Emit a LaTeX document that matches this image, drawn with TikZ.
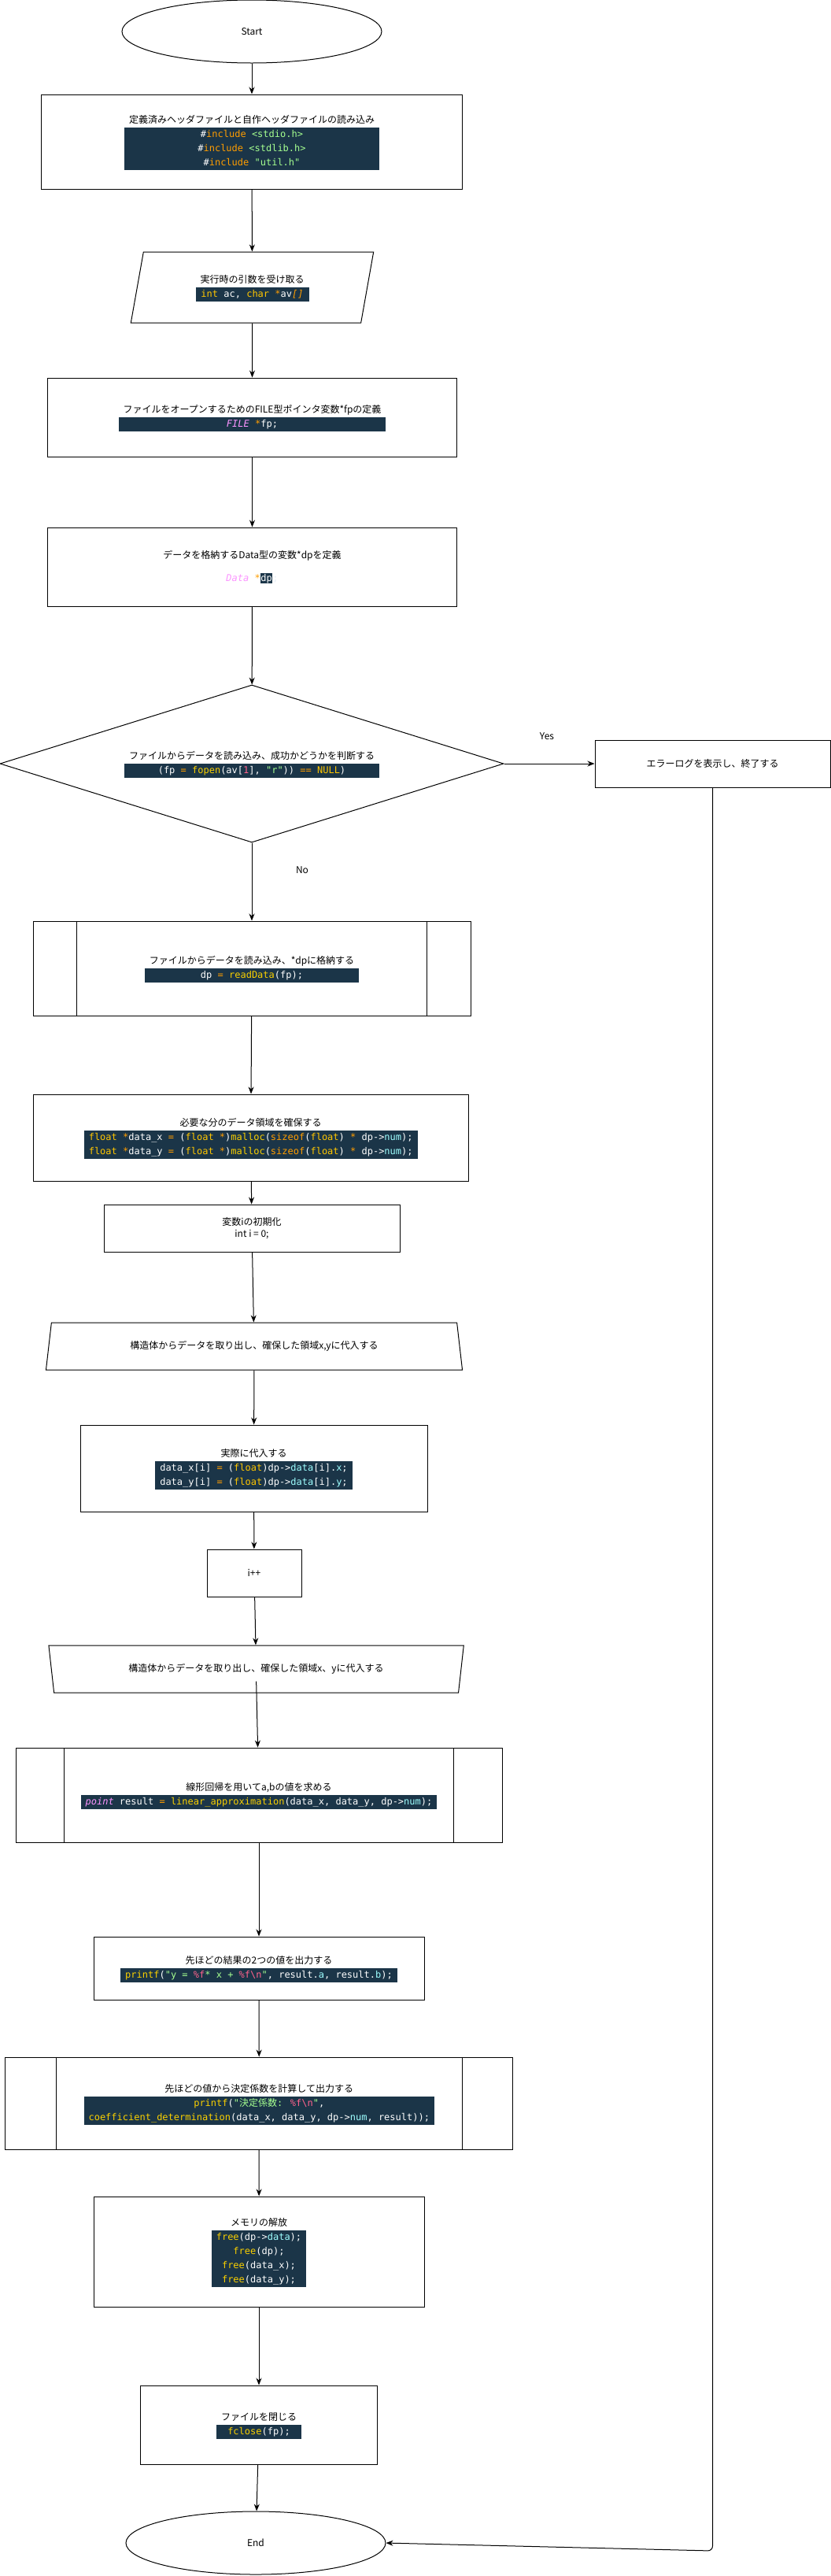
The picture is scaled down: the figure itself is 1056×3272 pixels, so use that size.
\documentclass[tikz,border=0pt]{standalone}
\usepackage[dvipsnames,table]{xcolor}
\usepackage{fontspec}
\usepackage{tikz}
\usetikzlibrary{shapes.geometric,arrows.meta,calc}

\newfontfamily\cjk{Noto Sans CJK JP}
\newfontfamily\codefont{DejaVu Sans Mono}

\definecolor{codebg}{HTML}{1B3548}
\definecolor{ckw}{HTML}{FF9D00}
\definecolor{ctype}{HTML}{FFC600}
\definecolor{cfun}{HTML}{FAD000}
\definecolor{cstr}{HTML}{A5FF90}
\definecolor{cnum}{HTML}{FF628C}
\definecolor{cpink}{HTML}{FB94FF}
\definecolor{cprop}{HTML}{9EFFFF}
\definecolor{cfaint}{HTML}{E6EEF5}

\newcommand{\hkw}[1]{\textcolor{ckw}{#1}}
\newcommand{\htype}[1]{\textcolor{ctype}{#1}}
\newcommand{\hfun}[1]{\textcolor{cfun}{#1}}
\newcommand{\hstr}[1]{\textcolor{cstr}{#1}}
\newcommand{\hnum}[1]{\textcolor{cnum}{#1}}
\newcommand{\hpink}[1]{\textcolor{cpink}{\itshape #1}}
\newcommand{\hprop}[1]{\textcolor{cprop}{#1}}
\newcommand{\codeln}[1]{\rowcolor{codebg}{\codefont\color{white}#1}}
\setlength{\fboxsep}{0.5pt}

\begin{document}
\begin{tikzpicture}[x=1pt, y=-1pt,
  every node/.style={font=\cjk\fontsize{12}{18}\selectfont, inner sep=0pt},
  term/.style={draw, ellipse, line width=1pt, minimum width=330, minimum height=80},
  proc/.style={draw, rectangle, line width=1pt},
  io/.style={draw, trapezium, trapezium left angle=78, trapezium right angle=102,
    trapezium stretches=true, line width=1pt},
  cond/.style={draw, diamond, aspect=3.2, line width=1pt},
  subproc/.style={proc, path picture={
    \foreach \f in {0.1,0.9}
      \draw[line width=1pt] ($(path picture bounding box.north west)!\f!(path picture bounding box.north east)$)
        -- ($(path picture bounding box.south west)!\f!(path picture bounding box.south east)$);
  }},
  looptop/.style={draw, trapezium, trapezium angle=72, trapezium stretches=true, line width=1pt},
  loopend/.style={draw, trapezium, trapezium angle=108, trapezium stretches=true, line width=1pt},
  arr/.style={-{Stealth[length=9pt,width=7pt]}, line width=1pt}]

\useasboundingbox (0,0) rectangle (1056,3272);

% main column
\node[term] (start) at (320,40) {Start};

\node[proc, minimum width=535, minimum height=120] (hdr) at (320,180) {\begin{tabular}{@{}c@{}}
  定義済みヘッダファイルと自作ヘッダファイルの読み込み\\
  \codeln{\#\hkw{include} \hstr{<stdio.h>}}\\
  \codeln{\#\hkw{include} \hstr{<stdlib.h>}}\\
  \codeln{\#\hkw{include} \hstr{"util.h"}}
\end{tabular}};

\node[io, minimum width=309, minimum height=90] (args) at (320.5,365) {\begin{tabular}{@{}c@{}}
  実行時の引数を受け取る\\
  \codeln{\htype{int} ac, \htype{char} \hkw{*}av\hkw{\itshape []}}
\end{tabular}};

\node[proc, minimum width=520, minimum height=100] (fpdef) at (320.5,530) {\begin{tabular}{@{}c@{}}
  ファイルをオープンするためのFILE型ポインタ変数*fpの定義\\
  \codeln{\hpink{FILE} \hkw{*}fp;}
\end{tabular}};

\node[proc, minimum width=520, minimum height=100] (dpdef) at (320.5,720) {\begin{tabular}{@{}c@{}}
  データを格納するData型の変数*dpを定義\\[11pt]
  {\codefont\hpink{Data} \hkw{*}\colorbox{codebg}{\color{white}dp}\textcolor{cfaint}{;}}
\end{tabular}};

\node[cond, minimum width=640, minimum height=200] (check) at (320,970) {\begin{tabular}{@{}c@{}}
  ファイルからデータを読み込み、成功かどうかを判断する\\
  \codeln{(fp \hkw{=} \hfun{fopen}(av[\hnum{1}], \hstr{"r"})) \hkw{==} \htype{NULL})}
\end{tabular}};

\node[proc, minimum width=299, minimum height=60] (err) at (905.5,970) {エラーログを表示し、終了する};

\node (yes) at (695,935) {Yes};
\node (no) at (384,1105) {No};

\node[subproc, minimum width=556, minimum height=120] (rdata) at (320,1230) {\begin{tabular}{@{}c@{}}
  ファイルからデータを読み込み、*dpに格納する\\
  \codeln{dp \hkw{=} \hfun{readData}(fp);}
\end{tabular}};

\node[proc, minimum width=553, minimum height=110] (alloc) at (318.7,1445) {\begin{tabular}{@{}c@{}}
  必要な分のデータ領域を確保する\\
  \codeln{\htype{float} \hkw{*}data\_x \hkw{=} (\htype{float} \hkw{*})\hfun{malloc}(\hkw{sizeof}(\htype{float}) \hkw{*} dp->\hprop{num});}\\
  \codeln{\htype{float} \hkw{*}data\_y \hkw{=} (\htype{float} \hkw{*})\hfun{malloc}(\hkw{sizeof}(\htype{float}) \hkw{*} dp->\hprop{num});}
\end{tabular}};

\node[proc, minimum width=376, minimum height=60] (init) at (320,1560) {\begin{tabular}{@{}c@{}}
  変数iの初期化\\[-3pt]
  int i = 0;
\end{tabular}};

\node[looptop, minimum width=530, minimum height=60] (loopa) at (323,1710) {構造体からデータを取り出し、確保した領域x,yに代入する};

\node[proc, minimum width=441, minimum height=110] (assign) at (322.5,1865) {\begin{tabular}{@{}c@{}}
  実際に代入する\\
  \codeln{data\_x[i] \hkw{=} (\htype{float})dp->\hprop{data}[i].\hprop{x};}\\
  \codeln{data\_y[i] \hkw{=} (\htype{float})dp->\hprop{data}[i].\hprop{y};}
\end{tabular}};

\node[proc, minimum width=120, minimum height=60] (incr) at (323,1998) {i++};

\node[loopend, minimum width=530, minimum height=60] (loopb) at (325.6,2120) {構造体からデータを取り出し、確保した領域x、yに代入する};

\node[subproc, minimum width=618, minimum height=120] (linreg) at (329,2280) {\begin{tabular}{@{}c@{}}
  線形回帰を用いてa,bの値を求める\\
  \codeln{\hpink{point} result \hkw{=} \hfun{linear\_approximation}(data\_x, data\_y, dp->\hprop{num});}
\end{tabular}};

\node[proc, minimum width=420, minimum height=80] (result) at (329,2500) {\begin{tabular}{@{}c@{}}
  先ほどの結果の2つの値を出力する\\
  \codeln{\hfun{printf}(\hstr{"y = }\hnum{\%f}\hstr{ * x + }\hnum{\%f\textbackslash n}\hstr{"}, result.\hprop{a}, result.\hprop{b});}
\end{tabular}};

\node[subproc, minimum width=645, minimum height=117] (coef) at (329.3,2671.5) {\begin{tabular}{@{}c@{}}
  先ほどの値から決定係数を計算して出力する\\
  \codeln{\hfun{printf}(\hstr{"{\cjk 決定係数}: }\hnum{\%f\textbackslash n}\hstr{"},}\\
  \codeln{\hfun{coefficient\_determination}(data\_x, data\_y, dp->\hprop{num}, result));}
\end{tabular}};

\node[proc, minimum width=420, minimum height=140] (free) at (329,2860) {\begin{tabular}{@{}c@{}}
  メモリの解放\\
  \codeln{\hfun{free}(dp->\hprop{data});}\\
  \codeln{\hfun{free}(dp);}\\
  \codeln{\hfun{free}(data\_x);}\\
  \codeln{\hfun{free}(data\_y);}
\end{tabular}};

\node[proc, minimum width=301, minimum height=100] (close) at (329,3080) {\begin{tabular}{@{}c@{}}
  ファイルを閉じる\\
  \codeln{\hfun{fclose}(fp);}
\end{tabular}};

\node[term] (end) at (325,3230) {End};

\coordinate (corner) at (905.5,3240);

% connectors
\draw[arr] (start) -- (hdr);
\draw[arr] (hdr) -- (args);
\draw[arr] (args) -- (fpdef);
\draw[arr] (fpdef) -- (dpdef);
\draw[arr] (dpdef) -- (check);
\draw[arr] (check) -- (err);
\draw[arr] (check) -- (rdata);
\draw[arr] (rdata) -- (alloc);
\draw[arr] (alloc) -- (init);
\draw[arr] (init) -- (loopa);
\draw[arr] (loopa) -- (assign);
\draw[arr] (assign) -- (incr);
\draw[arr] (incr) -- (loopb);
\draw[arr] ([yshift=15pt]loopb.south) -- (linreg);
\draw[arr] (linreg) -- (result);
\draw[arr] (result) -- (coef);
\draw[arr] (coef) -- (free);
\draw[arr] (free) -- (close);
\draw[arr] (close) -- (end);
\draw[arr, rounded corners=6pt] (err) -- (corner) -- (end.east);
\end{tikzpicture}
\end{document}
